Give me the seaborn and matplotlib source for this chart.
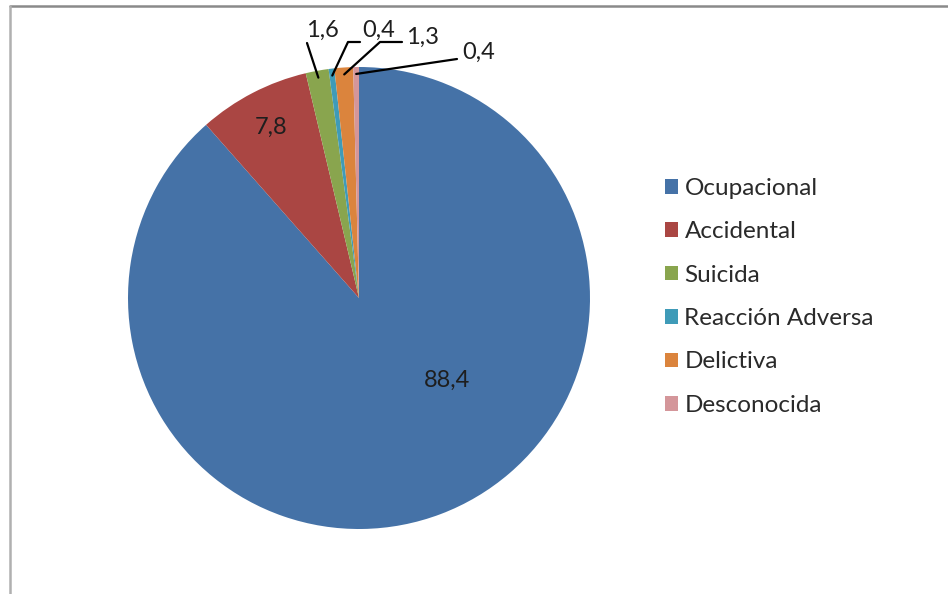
import numpy as np
import matplotlib
matplotlib.use("Agg")
import matplotlib.pyplot as plt
import matplotlib.patches as mpatches
from matplotlib.lines import Line2D
import seaborn as sns

# data
categorias = ["Ocupacional", "Accidental", "Suicida", "Reacción Adversa", "Delictiva", "Desconocida"]
porcentajes = [88.4, 7.8, 1.6, 0.4, 1.3, 0.4]
etiquetas = ["88,4", "7,8", "1,6", "0,4", "1,3", "0,4"]
colores = ["#4572A7", "#AA4643", "#89A54E", "#3F9BB8", "#DB843D", "#D4969A"]

sns.set_theme(style="white")
plt.rcParams['font.family'] = ['Lato', 'DejaVu Sans']

W, H = 948, 594
fig = plt.figure(figsize=(W / 100, H / 100), dpi=100)

# pie centre (359, 298) px, radius 231 px
cx, cy, R, L = 359, 298, 231, 1.3
side = 2 * L * R
ax = fig.add_axes([(cx - side / 2) / W, (H - cy - side / 2) / H, side / W, side / H])

wedges, _ = ax.pie(porcentajes, colors=sns.color_palette(colores), startangle=90,
                   counterclock=False, radius=1, wedgeprops=dict(linewidth=0))
ax.set_xlim(-L, L)
ax.set_ylim(-L, L)
ax.set_aspect("equal")
ax.axis("off")

def px(x, y):
    return ((x - cx) / R, (cy - y) / R)

fs = 17
# labels inside
ax.text(*px(447, 380), etiquetas[0], ha="center", va="center", fontsize=fs, color="#1e1e1e")
ax.text(*px(271, 127), etiquetas[1], ha="center", va="center", fontsize=fs, color="#1e1e1e")

# small slices with leader lines
pos_txt = {2: (322, 30), 3: (379, 30), 4: (423, 37), 5: (479, 52)}
ruta = {2: [(307, 43)], 3: [(360, 42), (348, 42)], 4: [(402, 42), (380, 42)], 5: [(457, 59)]}
for i in [2, 3, 4, 5]:
    w = wedges[i]
    ang = np.deg2rad((w.theta1 + w.theta2) / 2)
    end = (0.97 * np.cos(ang), 0.97 * np.sin(ang))
    pts = [px(*p) for p in ruta[i]] + [end]
    xs, ys = zip(*pts)
    ax.plot(xs, ys, color="black", lw=1.6, clip_on=False)
    ax.text(*px(*pos_txt[i]), etiquetas[i], ha="center", va="center", fontsize=fs,
            color="#1e1e1e", clip_on=False)

# legend
handles = [mpatches.Patch(facecolor=c, edgecolor="none", label=n) for c, n in zip(colores, categorias)]
fig.legend(handles=handles, loc="upper left", bbox_to_anchor=(665 / W, 1 - 178 / H),
           frameon=False, fontsize=17.5, handlelength=0.55, handleheight=0.55,
           handletextpad=0.25, labelspacing=0.92, borderaxespad=0, borderpad=0,
           labelcolor="#2a2a2a")

# chart frame
fig.add_artist(Line2D([10 / W, 1], [1 - 6 / H, 1 - 6 / H], transform=fig.transFigure,
                      color="#8a8a8a", lw=1.8))
fig.add_artist(Line2D([10 / W, 10 / W], [0, 1 - 6 / H], transform=fig.transFigure,
                      color="#b0b0b0", lw=1.8))

fig.savefig("out.png", dpi=100)
